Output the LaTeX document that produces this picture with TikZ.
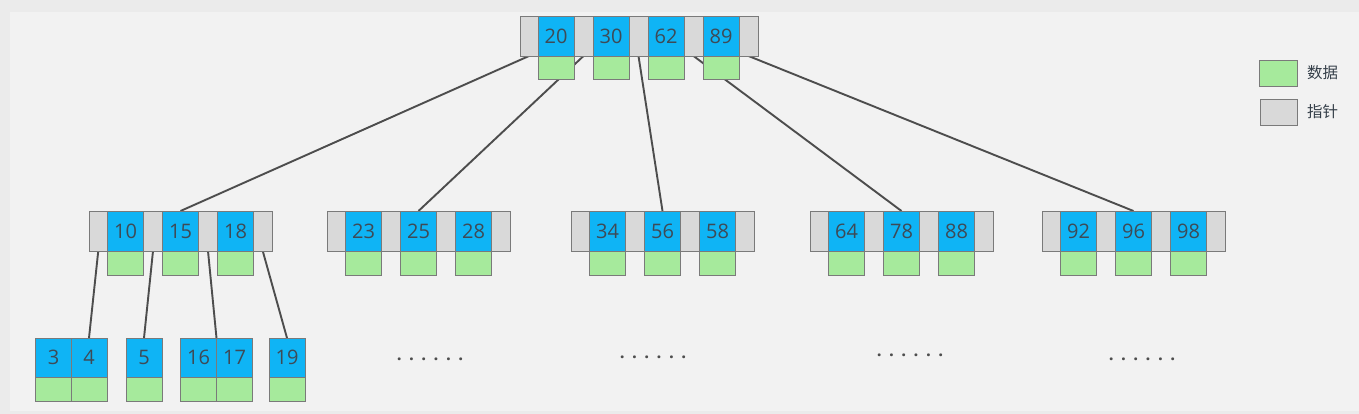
\documentclass[tikz,border=0pt]{standalone}
\usepackage{fontspec}
\setmainfont{Open Sans}
\newfontfamily\cjk{Noto Sans CJK SC}
\definecolor{keyblue}{HTML}{0FB4F5}
\definecolor{datagreen}{HTML}{A6EA9C}
\definecolor{ptrgray}{HTML}{D9D9D9}
\definecolor{edgegray}{HTML}{7A7A7A}
\definecolor{txt}{HTML}{3E4A56}
\definecolor{linec}{HTML}{4D4D4D}
\definecolor{outerbg}{HTML}{EBEBEB}
\definecolor{innerbg}{HTML}{F2F2F2}
\pgfdeclarelayer{back}
\pgfdeclarelayer{links}
\pgfsetlayers{back,links,main}
\newcommand\dotsrow{\makebox[12.3pt]{.}\makebox[12.3pt]{.}\makebox[12.3pt]{.}\makebox[12.3pt]{.}\makebox[12.3pt]{.}\makebox[12.3pt]{.}}
% #1 prefix, #2 left x, #3 #4 #5 keys
\newcommand\midnode[5]{%
  \node[ptrcell,minimum width=18.5pt] (#1p0) at (#2+9.25,231) {};
  \node[ptrcell,minimum width=19pt] (#1p1) at (#2+64,231) {};
  \node[ptrcell,minimum width=19pt] (#1p2) at (#2+119,231) {};
  \node[ptrcell,minimum width=18.5pt] (#1p3) at (#2+173.75,231) {};
  \node[keycell] (#1k1) at (#2+36.5,231) {#3};
  \node[keycell] (#1k2) at (#2+91.5,231) {#4};
  \node[keycell] (#1k3) at (#2+146.5,231) {#5};
  \node[datacell] (#1d1) at (#2+36.5,263) {};
  \node[datacell] (#1d2) at (#2+91.5,263) {};
  \node[datacell] (#1d3) at (#2+146.5,263) {};
}
\begin{document}
\begin{tikzpicture}[x=1pt,y=-1pt,
  cell/.style={draw=edgegray,line width=0.7pt,inner sep=0pt,outer sep=0pt},
  keycell/.style={cell,fill=keyblue,minimum width=36pt,minimum height=40pt,text=txt,font=\fontsize{20}{20}\selectfont},
  leafkey/.style={keycell,minimum height=39pt},
  ptrcell/.style={cell,fill=ptrgray,minimum height=40pt},
  datacell/.style={cell,fill=datagreen,minimum width=36pt,minimum height=24pt},
  link/.style={draw=linec,line width=1.9pt},
  legendtext/.style={text=txt!85!black,font=\cjk\fontsize{15.5}{15.5}\selectfont,anchor=west,inner sep=0pt},
  dotstext/.style={text=linec,font=\bfseries\fontsize{17}{17}\selectfont,inner sep=0pt}]
\useasboundingbox (0,0) rectangle (1359,414);
\begin{pgfonlayer}{back}
  \fill[outerbg] (0,0) rectangle (1359,414);
  \fill[innerbg] (10,12) rectangle (1359,411);
\end{pgfonlayer}

% root node
\node[ptrcell,minimum width=18pt] (tp0) at (529,36) {};
\node[ptrcell,minimum width=19pt] (tp1) at (583.5,36) {};
\node[ptrcell,minimum width=19pt] (tp2) at (638.5,36) {};
\node[ptrcell,minimum width=19pt] (tp3) at (693.5,36) {};
\node[ptrcell,minimum width=19pt] (tp4) at (748.5,36) {};
\node[keycell] (tk1) at (556,36) {20};
\node[keycell] (tk2) at (611,36) {30};
\node[keycell] (tk3) at (666,36) {62};
\node[keycell] (tk4) at (721,36) {89};
\node[datacell,minimum height=23pt] (td1) at (556,67.5) {};
\node[datacell,minimum height=23pt] (td2) at (611,67.5) {};
\node[datacell,minimum height=23pt] (td3) at (666,67.5) {};
\node[datacell,minimum height=23pt] (td4) at (721,67.5) {};

% second level
\midnode{a}{89}{10}{15}{18}
\midnode{b}{327}{23}{25}{28}
\midnode{c}{571}{34}{56}{58}
\midnode{d}{810}{64}{78}{88}
\midnode{e}{1042}{92}{96}{98}

% leaves
\node[leafkey] (l3) at (53.5,357.5) {3};
\node[leafkey] (l4) at (89,357.5) {4};
\node[datacell] (l3d) at (53.5,389) {};
\node[datacell] (l4d) at (89,389) {};
\node[leafkey] (l5) at (144,357.5) {5};
\node[datacell] (l5d) at (144,389) {};
\node[leafkey] (l16) at (198.5,357.5) {16};
\node[leafkey] (l17) at (234.5,357.5) {17};
\node[datacell] (l16d) at (198.5,389) {};
\node[datacell] (l17d) at (234.5,389) {};
\node[leafkey] (l19) at (287,357.5) {19};
\node[datacell] (l19d) at (287,389) {};

% ellipses
\node[dotstext] (dots1) at (430,359) {\dotsrow};
\node[dotstext] (dots2) at (653,357) {\dotsrow};
\node[dotstext] (dots3) at (910,355) {\dotsrow};
\node[dotstext] (dots4) at (1142,359) {\dotsrow};

% legend
\node[datacell,minimum width=38pt,minimum height=26pt] (lgd) at (1278,73) {};
\node[legendtext] (lgdt) at (1307,73) {数据};
\node[ptrcell,minimum width=37pt,minimum height=26pt] (lgp) at (1278.5,112) {};
\node[legendtext] (lgpt) at (1307,112) {指针};

% connectors
\begin{pgfonlayer}{links}
  \draw[link] (tp0.south) -- (ak2.north);
  \draw[link] (tp1.south) -- (bk2.north);
  \draw[link] (tp2.south) -- (ck2.north);
  \draw[link] (tp3.south) -- (dk2.north);
  \draw[link] (tp4.south) -- (ek2.north);
  \draw[link] (ap0.south) -- (l4.north);
  \draw[link] (ap1.south) -- (l5.north);
  \draw[link] (ap2.south) -- (l16.north east);
  \draw[link] (ap3.south) -- (l19.north);
\end{pgfonlayer}
\end{tikzpicture}
\end{document}
